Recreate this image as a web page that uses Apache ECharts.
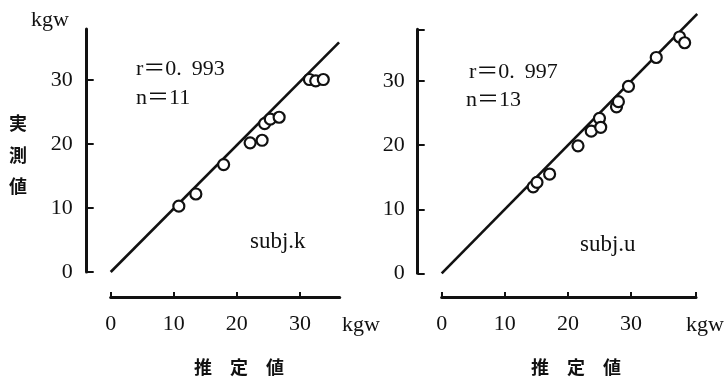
<!DOCTYPE html>
<html>
<head>
<meta charset="utf-8">
<script src="https://cdn.jsdelivr.net/npm/echarts@6/dist/echarts.min.js"></script>
<style>html,body{margin:0;padding:0;background:#fff;}#c{width:727px;height:384px;}</style>
</head>
<body>
<div id="c"></div>
<script>
// ---- data ----
var kEstimated = [10.8, 13.5, 17.9, 22.1, 24.0, 24.4, 25.3, 26.7, 31.5, 32.5, 33.7];
var kMeasured  = [10.3, 12.2, 16.8, 20.2, 20.6, 23.2, 23.9, 24.2, 30.1, 29.9, 30.1];
var uEstimated = [14.5, 15.1, 17.1, 21.6, 23.7, 25.0, 25.2, 27.7, 28.0, 29.6, 34.0, 37.7, 38.5];
var uMeasured  = [13.5, 14.2, 15.5, 19.9, 22.2, 24.2, 22.8, 26.0, 26.8, 29.2, 33.7, 36.9, 36.0];
var kFitLine = [[0, 0], [36.2, 35.9]];
var uFitLine = [[0, 0], [40.5, 40.5]];
var tickLabels = [0, 10, 20, 30];
var kStats = {r: '0.993', n: '11', name: 'subj.k'};
var uStats = {r: '0.997', n: '13', name: 'subj.u'};

function pairs(xs, ys) { return xs.map(function (x, i) { return [x, ys[i]]; }); }

var SERIF = '"Liberation Serif", "DejaVu Serif", "Noto Sans CJK JP", serif';
var CJK = '"Noto Sans CJK JP", sans-serif';
var INK = '#111';

function xAxisCfg(gridIndex, max, tickVals, offset) {
  return {
    type: 'value', gridIndex: gridIndex, min: 0, max: max, position: 'bottom', offset: offset,
    axisLine: {show: true, onZero: false, lineStyle: {color: INK, width: 3}},
    axisTick: {show: true, inside: true, length: 5, customValues: tickVals, lineStyle: {color: INK, width: 2}},
    axisLabel: {customValues: tickLabels, margin: 16, color: INK, fontFamily: SERIF, fontSize: 22},
    splitLine: {show: false}
  };
}
function yAxisCfg(gridIndex, max, tickVals, offset, margin) {
  return {
    type: 'value', gridIndex: gridIndex, min: 0, max: max, position: 'left', offset: offset,
    axisLine: {show: true, onZero: false, lineStyle: {color: INK, width: 3}},
    axisTick: {show: true, inside: true, length: 7, customValues: tickVals, lineStyle: {color: INK, width: 2}},
    axisLabel: {customValues: tickLabels, margin: margin, color: INK, fontFamily: SERIF, fontSize: 22},
    splitLine: {show: false}
  };
}
function scatter(idx, data) {
  return {
    type: 'scatter', xAxisIndex: idx, yAxisIndex: idx, data: data, symbol: 'circle', symbolSize: 11, z: 5,
    itemStyle: {color: '#fff', borderColor: INK, borderWidth: 2.2, opacity: 1}
  };
}
function fit(idx, data) {
  return {
    type: 'line', xAxisIndex: idx, yAxisIndex: idx, data: data, symbol: 'none', clip: false, z: 3,
    lineStyle: {color: INK, width: 2.6}
  };
}
function txt(x, y, text, size, family, align, weight) {
  return {
    type: 'text', x: x, y: y, z: 10,
    style: {text: text, fill: INK, fontSize: size, fontFamily: family, fontWeight: weight || 'normal',
      align: align || 'left', verticalAlign: 'middle'}
  };
}
function statText(x, y, label, value) {
  var parts = value.split('.');
  var text = parts.length > 1 ? '{a|' + label + '＝' + parts[0] + '.}{b|' + parts[1] + '}' : '{a|' + label + '＝' + value + '}';
  return {
    type: 'text', x: x, y: y, z: 10,
    style: {text: text, verticalAlign: 'middle', align: 'left',
      rich: {
        a: {fontFamily: SERIF, fontSize: 22, fill: INK, color: INK},
        b: {fontFamily: SERIF, fontSize: 22, fill: INK, color: INK, padding: [0, 0, 0, 10]}
      }}
  };
}

var option = {
  animation: false,
  backgroundColor: '#fff',
  grid: [
    {left: 110.7, top: 29, width: 229, height: 243},
    {left: 441.7, top: 29.3, width: 254.3, height: 244}
  ],
  xAxis: [
    xAxisCfg(0, 36.3, [0, 10, 20, 30], 25),
    xAxisCfg(1, 40.3, [0, 10, 20, 30, 40.3], 23.7)
  ],
  yAxis: [
    yAxisCfg(0, 38, [0, 10, 20, 30], 24, 14),
    yAxisCfg(1, 38.1, [0, 10, 20, 30, 38.1], 24, 13)
  ],
  series: [
    fit(0, kFitLine),
    scatter(0, pairs(kEstimated, kMeasured)),
    fit(1, uFitLine),
    scatter(1, pairs(uEstimated, uMeasured))
  ],
  graphic: [
    txt(31, 20, 'kgw', 22, SERIF),
    txt(18, 123, '実', 18, CJK, 'center', 'bold'),
    txt(18, 155, '測', 18, CJK, 'center', 'bold'),
    txt(18, 186, '値', 18, CJK, 'center', 'bold'),
    statText(136, 69, 'r', kStats.r),
    statText(136, 98, 'n', kStats.n),
    txt(250, 242, kStats.name, 23, SERIF),
    statText(469, 72, 'r', uStats.r),
    statText(466, 100, 'n', uStats.n),
    txt(580, 245, uStats.name, 23, SERIF),
    txt(342, 325, 'kgw', 22, SERIF),
    txt(686, 325, 'kgw', 22, SERIF),
    txt(239, 367, '推　定　値', 18, CJK, 'center', 'bold'),
    txt(576, 367, '推　定　値', 18, CJK, 'center', 'bold')
  ]
};
var chart = echarts.init(document.getElementById('c'), null, {renderer: 'canvas'});
chart.setOption(option);
</script>
</body>
</html>
